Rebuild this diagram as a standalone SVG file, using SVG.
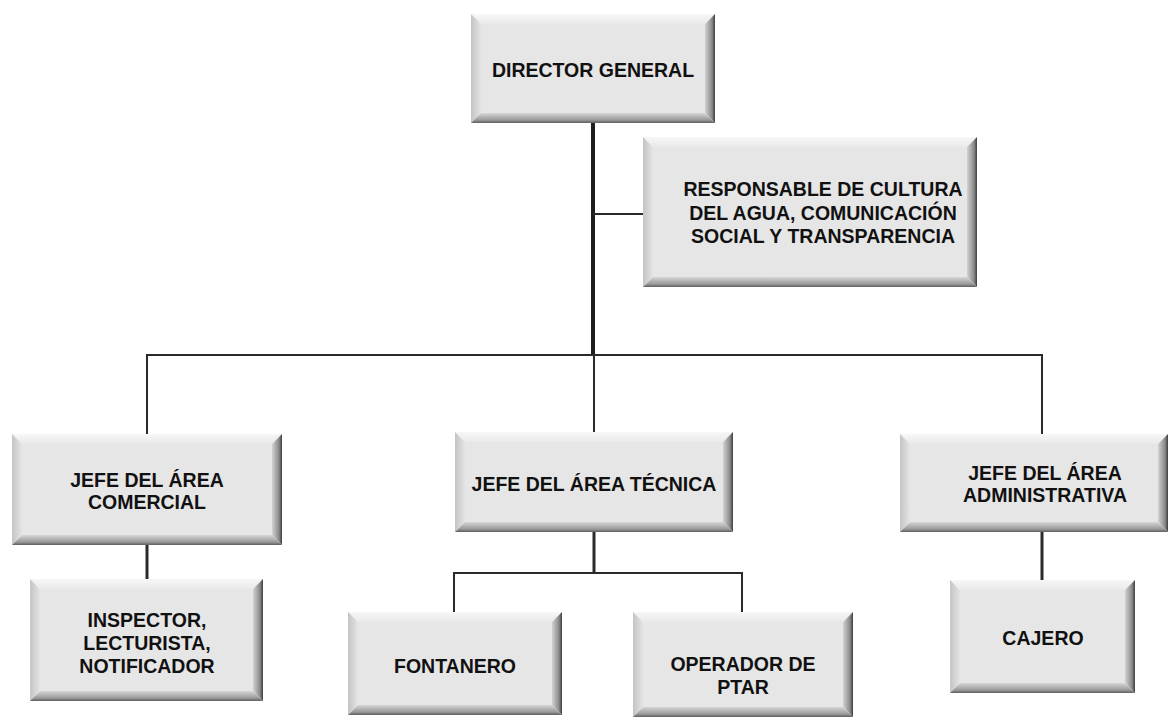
<svg xmlns="http://www.w3.org/2000/svg" width="1170" height="723" viewBox="0 0 1170 723">
<defs>
<linearGradient id="gT" x1="0" y1="0" x2="0" y2="1"><stop offset="0" stop-color="#f7f7f7"/><stop offset="1" stop-color="#e9e9e9"/></linearGradient>
<linearGradient id="gB" x1="0" y1="1" x2="0" y2="0"><stop offset="0" stop-color="#5e5e5e"/><stop offset="0.3" stop-color="#9a9a9a"/><stop offset="1" stop-color="#d6d6d6"/></linearGradient>
<linearGradient id="gL" x1="0" y1="0" x2="1" y2="0"><stop offset="0" stop-color="#c4c4c4"/><stop offset="1" stop-color="#e4e4e4"/></linearGradient>
<linearGradient id="gR" x1="1" y1="0" x2="0" y2="0"><stop offset="0" stop-color="#3e3e3e"/><stop offset="0.3" stop-color="#8a8a8a"/><stop offset="1" stop-color="#d2d2d2"/></linearGradient>
</defs>
<style>
.face{fill:#e6e6e6}
.bt{fill:url(#gT)}
.bb{fill:url(#gB)}
.bl{fill:url(#gL)}
.br{fill:url(#gR)}
text{font-family:"Liberation Sans",Arial,sans-serif;font-weight:bold;font-size:19.5px;fill:#111;text-anchor:middle}
.ln{stroke:#2a2a2a;stroke-width:2;fill:none}
.lt{stroke:#1e1e1e;stroke-width:4;fill:none}
.lm{stroke:#2a2a2a;stroke-width:3;fill:none}
</style>
<g id="connectors">
<line class="lt" x1="593" y1="123" x2="593" y2="356"/>
<line class="ln" x1="593" y1="214" x2="643" y2="214"/>
<line class="ln" x1="146" y1="355" x2="1043" y2="355"/>
<line class="ln" x1="147" y1="355" x2="147" y2="434"/>
<line class="ln" x1="594" y1="355" x2="594" y2="432"/>
<line class="ln" x1="1042" y1="355" x2="1042" y2="434"/>
<line class="lm" x1="147" y1="545" x2="147" y2="579"/>
<line class="lm" x1="594" y1="532" x2="594" y2="574"/>
<line class="ln" x1="453" y1="573" x2="743" y2="573"/>
<line class="ln" x1="454" y1="573" x2="454" y2="612"/>
<line class="ln" x1="742" y1="573" x2="742" y2="612"/>
<line class="lm" x1="1042" y1="532" x2="1042" y2="580"/>
</g>
<g id="director">
<rect class="face" x="481" y="24" width="224" height="89"/>
<polygon class="bt" points="471,14 715,14 705,24 481,24"/>
<polygon class="bl" points="471,14 481,24 481,113 471,123"/>
<polygon class="br" points="715,14 705,24 705,113 715,123"/>
<polygon class="bb" points="471,123 715,123 705,113 481,113"/>
<text x="593" y="77">DIRECTOR GENERAL</text>
</g>
<g id="responsable">
<rect class="face" x="653" y="147" width="314" height="130"/>
<polygon class="bt" points="643,137 977,137 967,147 653,147"/>
<polygon class="bl" points="643,137 653,147 653,277 643,287"/>
<polygon class="br" points="977,137 967,147 967,277 977,287"/>
<polygon class="bb" points="643,287 977,287 967,277 653,277"/>
<text x="823" y="196">RESPONSABLE DE CULTURA</text>
<text x="823" y="220">DEL AGUA, COMUNICACIÓN</text>
<text x="823" y="243">SOCIAL Y TRANSPARENCIA</text>
</g>
<g id="comercial">
<rect class="face" x="22" y="444" width="250" height="91"/>
<polygon class="bt" points="12,434 282,434 272,444 22,444"/>
<polygon class="bl" points="12,434 22,444 22,535 12,545"/>
<polygon class="br" points="282,434 272,444 272,535 282,545"/>
<polygon class="bb" points="12,545 282,545 272,535 22,535"/>
<text x="147" y="487">JEFE DEL ÁREA</text>
<text x="147" y="509">COMERCIAL</text>
</g>
<g id="tecnica">
<rect class="face" x="465" y="442" width="258" height="80"/>
<polygon class="bt" points="455,432 733,432 723,442 465,442"/>
<polygon class="bl" points="455,432 465,442 465,522 455,532"/>
<polygon class="br" points="733,432 723,442 723,522 733,532"/>
<polygon class="bb" points="455,532 733,532 723,522 465,522"/>
<text x="594" y="491">JEFE DEL ÁREA TÉCNICA</text>
</g>
<g id="administrativa">
<rect class="face" x="910" y="444" width="248" height="78"/>
<polygon class="bt" points="900,434 1168,434 1158,444 910,444"/>
<polygon class="bl" points="900,434 910,444 910,522 900,532"/>
<polygon class="br" points="1168,434 1158,444 1158,522 1168,532"/>
<polygon class="bb" points="900,532 1168,532 1158,522 910,522"/>
<text x="1045" y="480">JEFE DEL ÁREA</text>
<text x="1045" y="502">ADMINISTRATIVA</text>
</g>
<g id="inspector">
<rect class="face" x="40" y="589" width="213" height="102"/>
<polygon class="bt" points="30,579 263,579 253,589 40,589"/>
<polygon class="bl" points="30,579 40,589 40,691 30,701"/>
<polygon class="br" points="263,579 253,589 253,691 263,701"/>
<polygon class="bb" points="30,701 263,701 253,691 40,691"/>
<text x="147" y="627">INSPECTOR,</text>
<text x="147" y="650">LECTURISTA,</text>
<text x="147" y="673">NOTIFICADOR</text>
</g>
<g id="fontanero">
<rect class="face" x="358" y="622" width="194" height="83"/>
<polygon class="bt" points="348,612 562,612 552,622 358,622"/>
<polygon class="bl" points="348,612 358,622 358,705 348,715"/>
<polygon class="br" points="562,612 552,622 552,705 562,715"/>
<polygon class="bb" points="348,715 562,715 552,705 358,705"/>
<text x="455" y="673">FONTANERO</text>
</g>
<g id="operador">
<rect class="face" x="643" y="622" width="200" height="85"/>
<polygon class="bt" points="633,612 853,612 843,622 643,622"/>
<polygon class="bl" points="633,612 643,622 643,707 633,717"/>
<polygon class="br" points="853,612 843,622 843,707 853,717"/>
<polygon class="bb" points="633,717 853,717 843,707 643,707"/>
<text x="743" y="671">OPERADOR DE</text>
<text x="743" y="694">PTAR</text>
</g>
<g id="cajero">
<rect class="face" x="960" y="590" width="165" height="93"/>
<polygon class="bt" points="950,580 1135,580 1125,590 960,590"/>
<polygon class="bl" points="950,580 960,590 960,683 950,693"/>
<polygon class="br" points="1135,580 1125,590 1125,683 1135,693"/>
<polygon class="bb" points="950,693 1135,693 1125,683 960,683"/>
<text x="1043" y="645">CAJERO</text>
</g>
</svg>
